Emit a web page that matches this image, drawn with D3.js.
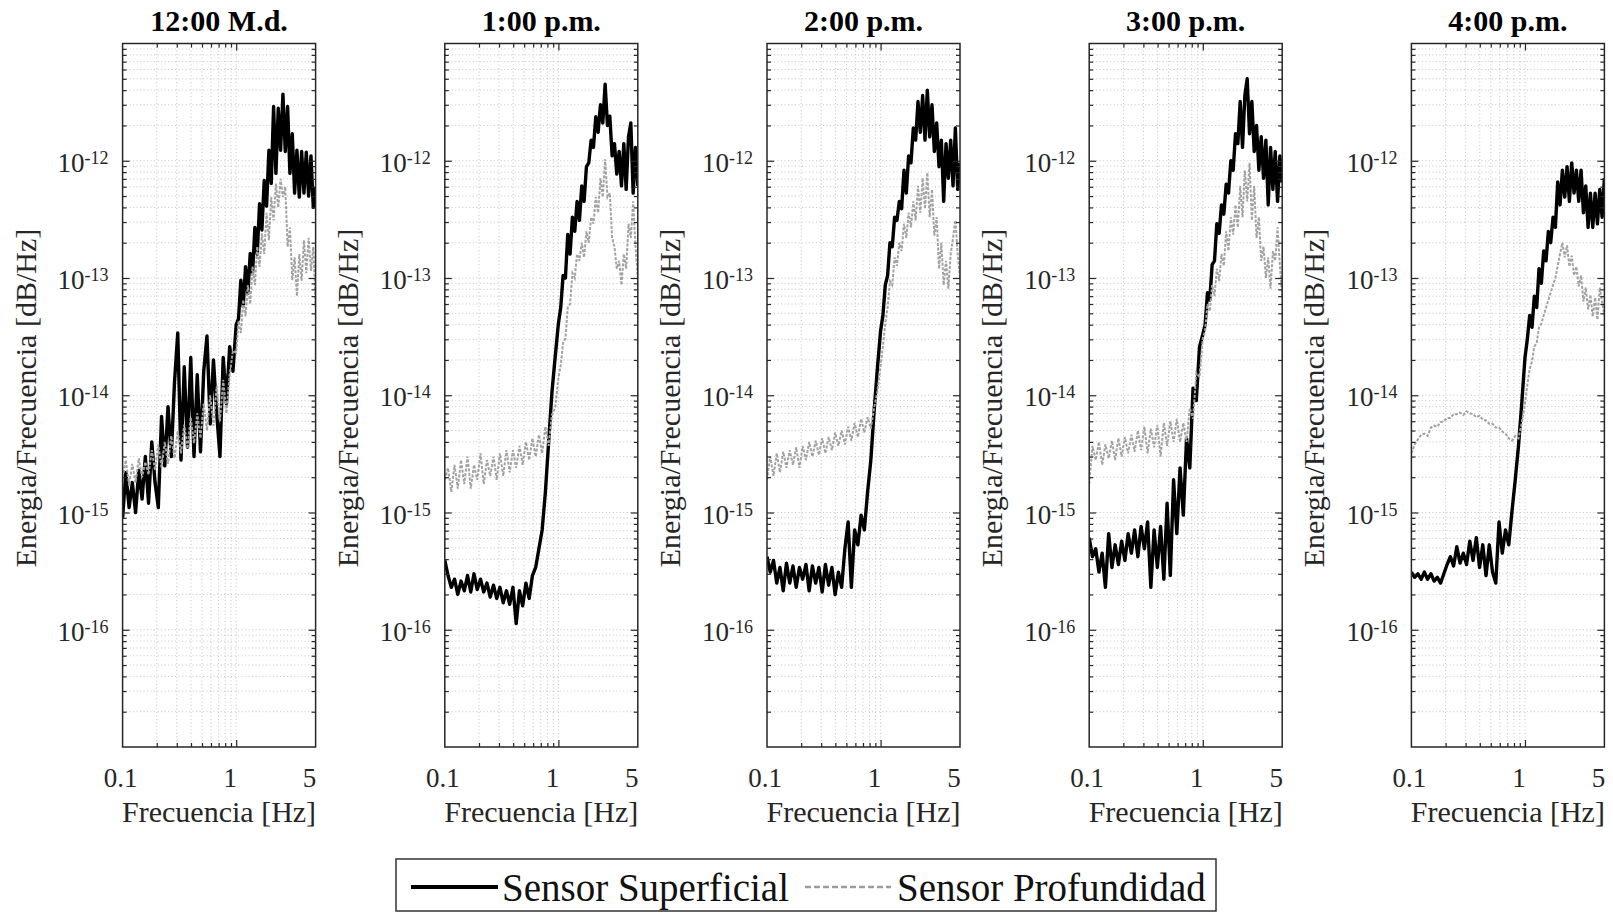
<!DOCTYPE html>
<html>
<head>
<meta charset="utf-8">
<script src="https://cdn.jsdelivr.net/npm/d3@7"></script>
<style>
  body { margin: 0; background: #fff; }
  svg { display: block; font-family: "Liberation Serif", "Times New Roman", serif; }
</style>
</head>
<body>
<svg id="chart" width="1613" height="913"></svg>
<script>
// frequency bins shared by every panel [Hz]
const freq = [
  0.1, 0.1068, 0.1141, 0.1218, 0.1301, 0.1389, 0.1484, 0.1585, 0.1692, 0.1807,
  0.193, 0.2062, 0.2202, 0.2351, 0.2511, 0.2682, 0.2864, 0.3059, 0.3267, 0.3489,
  0.3727, 0.398, 0.4251, 0.454, 0.4848, 0.5178, 0.553, 0.5906, 0.6308, 0.6737,
  0.7195, 0.7684, 0.8206, 0.8764, 0.936, 1.0,
  1.0485, 1.0993, 1.1527, 1.2086, 1.2672, 1.3287, 1.3931, 1.4607, 1.5315, 1.6058,
  1.6837, 1.7653, 1.8509, 1.9407, 2.0348, 2.1335, 2.237, 2.3455, 2.4592, 2.5785,
  2.7036, 2.8347, 2.9722, 3.1163, 3.2675, 3.426, 3.5921, 3.7663, 3.949, 4.1405,
  4.3413, 4.5519, 4.7726, 5.0
];

const titles = ["12:00 M.d.", "1:00 p.m.", "2:00 p.m.", "3:00 p.m.", "4:00 p.m."];

// 12:00
const superficial12 = [
  9.0e-16, 2.2e-15, 1.1e-15, 1.8e-15, 1.0e-15, 2.3e-15, 1.3e-15, 3.0e-15, 1.2e-15, 4.0e-15,
  1.8e-15, 1.1e-15, 6.6e-15, 2.5e-15, 8.0e-15, 3.0e-15, 1.3e-14, 3.4e-14, 2.8e-15, 1.75e-14,
  3.6e-15, 2.1e-14, 3.0e-15, 1.5e-14, 3.3e-15, 1.6e-14, 3.2e-14, 5.7e-15, 2.0e-14, 7.0e-15,
  3.0e-15, 2.1e-14, 8.5e-15, 2.6e-14, 1.6e-14, 4.0e-14,
  4.5e-14, 9.6e-14, 5.7e-14, 1.25e-13, 7.4e-14, 1.62e-13, 1.1e-13, 2.7e-13, 1.6e-13, 4.3e-13,
  2.57e-13, 6.8e-13, 4.1e-13, 1.23e-12, 6.4e-13, 2.9e-12, 7.8e-13, 2.8e-12, 1.23e-12, 3.7e-12,
  1.2e-12, 2.9e-12, 7.8e-13, 1.7e-12, 5.3e-13, 1.23e-12, 4.9e-13, 1.2e-12, 5.3e-13, 1.18e-12,
  5.0e-13, 1.1e-12, 4.0e-13, 6.0e-13
];
const profundidad12 = [
  2.0e-15, 2.8e-15, 1.7e-15, 2.6e-15, 1.8e-15, 2.9e-15, 2.0e-15, 2.7e-15, 2.1e-15, 3.4e-15,
  2.3e-15, 3.8e-15, 2.4e-15, 4.0e-15, 2.6e-15, 4.5e-15, 2.9e-15, 5.0e-15, 3.2e-15, 5.6e-15,
  3.5e-15, 6.5e-15, 3.9e-15, 7.0e-15, 4.3e-15, 8.5e-15, 5.0e-15, 1.0e-14, 5.5e-15, 1.2e-14,
  6.0e-15, 1.35e-14, 7.0e-15, 1.5e-14, 2.4e-14, 2.3e-14,
  4.3e-14, 3.4e-14, 6.5e-14, 4.7e-14, 8.7e-14, 6.0e-14, 1.25e-13, 8.7e-14, 1.85e-13, 1.25e-13,
  2.4e-13, 1.6e-13, 3.6e-13, 2.1e-13, 4.9e-13, 3.1e-13, 6.4e-13, 4.0e-13, 7.0e-13, 4.9e-13,
  6.0e-13, 1.85e-13, 2.7e-13, 9.6e-14, 1.5e-13, 7.0e-14, 1.6e-13, 9.5e-14, 2.1e-13, 1.1e-13,
  2.2e-13, 1.15e-13, 1.85e-13, 5.7e-14
];

// 1:00
const superficial13 = [
  3.9e-16, 2.9e-16, 2.3e-16, 2.7e-16, 2.0e-16, 2.6e-16, 2.15e-16, 2.9e-16, 2.1e-16, 3.0e-16,
  2.2e-16, 2.7e-16, 2.1e-16, 2.5e-16, 1.9e-16, 2.4e-16, 1.85e-16, 2.3e-16, 1.7e-16, 2.15e-16,
  1.65e-16, 2.3e-16, 1.13e-16, 2.15e-16, 1.6e-16, 2.5e-16, 1.85e-16, 2.9e-16, 3.4e-16, 4.9e-16,
  7.1e-16, 1.5e-15, 4.0e-15, 1.05e-14, 2.1e-14, 4.1e-14,
  5.6e-14, 1.05e-13, 1.0e-13, 2.35e-13, 1.6e-13, 3.3e-13, 2.5e-13, 4.5e-13, 3.1e-13, 6.1e-13,
  4.5e-13, 8.9e-13, 9.6e-13, 1.5e-12, 1.3e-12, 2.37e-12, 1.75e-12, 3.0e-12, 2.1e-12, 4.5e-12,
  2.0e-12, 2.4e-12, 1.1e-12, 1.4e-12, 7.7e-13, 1.2e-12, 6.1e-13, 1.4e-12, 5.7e-13, 1.6e-12,
  2.1e-12, 5.3e-13, 1.3e-12, 6.1e-13
];
const profundidad13 = [
  1.9e-15, 2.4e-15, 1.5e-15, 2.55e-15, 1.6e-15, 2.8e-15, 1.75e-15, 3.0e-15, 1.6e-15, 2.55e-15,
  1.9e-15, 3.2e-15, 1.75e-15, 2.8e-15, 2.05e-15, 3.0e-15, 1.9e-15, 3.2e-15, 2.05e-15, 3.4e-15,
  2.2e-15, 3.4e-15, 2.4e-15, 3.7e-15, 2.55e-15, 4.0e-15, 2.8e-15, 4.3e-15, 3.0e-15, 4.6e-15,
  3.2e-15, 5.4e-15, 3.7e-15, 6.8e-15, 7.8e-15, 1.4e-14,
  1.8e-14, 2.8e-14, 3.05e-14, 5.6e-14, 6.0e-14, 1.1e-13, 1.0e-13, 1.6e-13, 1.4e-13, 2.0e-13,
  1.5e-13, 2.5e-13, 2.0e-13, 3.3e-13, 2.9e-13, 4.9e-13, 3.6e-13, 7.1e-13, 4.9e-13, 1.03e-12,
  4.9e-13, 5.3e-13, 2.2e-13, 1.85e-13, 1.2e-13, 1.4e-13, 8.7e-14, 1.6e-13, 1.2e-13, 2.9e-13,
  2.2e-13, 4.5e-13, 1.85e-13, 1.0e-13
];

// 2:00
const superficial14 = [
  4.2e-16, 3.1e-16, 3.9e-16, 2.5e-16, 3.4e-16, 2.15e-16, 3.7e-16, 2.5e-16, 3.5e-16, 2.3e-16,
  3.4e-16, 2.7e-16, 3.6e-16, 2.15e-16, 3.5e-16, 2.5e-16, 3.4e-16, 2.1e-16, 3.6e-16, 2.4e-16,
  3.4e-16, 2.0e-16, 3.1e-16, 2.3e-16, 4.9e-16, 8.3e-16, 2.3e-16, 7.1e-16, 5.3e-16, 9.5e-16,
  7.1e-16, 1.5e-15, 2.8e-15, 7.3e-15, 1.67e-14, 3.55e-14,
  4.8e-14, 8.7e-14, 1.05e-13, 2.0e-13, 1.85e-13, 3.3e-13, 3.1e-13, 4.5e-13, 3.9e-13, 8.3e-13,
  5.3e-13, 1.1e-12, 9.6e-13, 1.9e-12, 1.5e-12, 3.2e-12, 1.75e-12, 3.6e-12, 1.5e-12, 4.0e-12,
  1.6e-12, 3.0e-12, 1.2e-12, 2.1e-12, 8.9e-13, 1.5e-12, 4.5e-13, 1.4e-12, 7.1e-13, 1.5e-12,
  6.1e-13, 1.9e-12, 5.7e-13, 9.6e-13
];
const profundidad14 = [
  1.9e-15, 3.0e-15, 2.05e-15, 3.2e-15, 2.2e-15, 3.3e-15, 2.4e-15, 3.4e-15, 2.55e-15, 3.6e-15,
  2.4e-15, 3.7e-15, 2.8e-15, 4.0e-15, 3.0e-15, 4.1e-15, 3.1e-15, 4.3e-15, 3.2e-15, 4.4e-15,
  3.4e-15, 4.8e-15, 3.7e-15, 5.0e-15, 3.8e-15, 5.4e-15, 4.1e-15, 5.8e-15, 4.4e-15, 6.3e-15,
  4.8e-15, 6.5e-15, 5.2e-15, 7.8e-15, 1.06e-14, 1.8e-14,
  2.6e-14, 4.1e-14, 5.6e-14, 9.4e-14, 8.7e-14, 1.5e-13, 1.27e-13, 2.0e-13, 1.7e-13, 2.9e-13,
  2.2e-13, 3.6e-13, 2.7e-13, 4.5e-13, 3.1e-13, 6.1e-13, 3.6e-13, 7.1e-13, 3.9e-13, 7.9e-13,
  3.3e-13, 5.7e-13, 2.3e-13, 3.3e-13, 1.2e-13, 2.0e-13, 8.7e-14, 1.4e-13, 8.1e-14, 1.6e-13,
  2.2e-13, 3.1e-13, 1.6e-13, 1.0e-13
];

// 3:00
const superficial15 = [
  6.1e-16, 4.2e-16, 4.9e-16, 3.1e-16, 4.5e-16, 2.3e-16, 6.6e-16, 3.4e-16, 5.3e-16, 3.6e-16,
  5.7e-16, 3.9e-16, 6.6e-16, 4.5e-16, 7.1e-16, 4.2e-16, 7.6e-16, 4.9e-16, 8.3e-16, 2.3e-16,
  7.1e-16, 3.4e-16, 7.6e-16, 2.7e-16, 1.2e-15, 2.9e-16, 1.9e-15, 6.6e-16, 2.4e-15, 9.5e-16,
  4.3e-15, 2.4e-15, 1.15e-14, 9.0e-15, 2.6e-14, 3.3e-14,
  4.0e-14, 7.5e-14, 6.5e-14, 1.3e-13, 1.4e-13, 2.9e-13, 2.4e-13, 4.2e-13, 3.5e-13, 6.3e-13,
  5.3e-13, 1.0e-12, 8.3e-13, 1.7e-12, 1.4e-12, 3.2e-12, 1.3e-12, 3.6e-12, 5.0e-12, 1.7e-12,
  3.2e-12, 1.2e-12, 2.0e-12, 8.3e-13, 1.6e-12, 7.1e-13, 1.5e-12, 4.2e-13, 1.3e-12, 5.7e-13,
  1.2e-12, 4.5e-13, 1.1e-12, 6.5e-13
];
const profundidad15 = [
  1.75e-15, 3.7e-15, 2.8e-15, 4.0e-15, 2.55e-15, 3.8e-15, 2.9e-15, 4.1e-15, 2.8e-15, 4.3e-15,
  3.0e-15, 4.4e-15, 3.2e-15, 4.6e-15, 3.3e-15, 5.0e-15, 3.4e-15, 5.4e-15, 3.2e-15, 5.2e-15,
  3.6e-15, 5.6e-15, 3.0e-15, 5.8e-15, 3.7e-15, 6.0e-15, 4.0e-15, 6.3e-15, 4.0e-15, 5.8e-15,
  4.0e-15, 7.8e-15, 6.3e-15, 1.55e-14, 1.43e-14, 3.05e-14,
  3.55e-14, 6.0e-14, 5.2e-14, 8.7e-14, 7.0e-14, 1.2e-13, 9.4e-14, 1.6e-13, 1.27e-13, 2.5e-13,
  1.7e-13, 3.3e-13, 2.35e-13, 4.2e-13, 2.7e-13, 6.1e-13, 3.3e-13, 8.3e-13, 4.5e-13, 9.6e-13,
  3.1e-13, 6.1e-13, 2.2e-13, 3.3e-13, 1.4e-13, 1.85e-13, 1.0e-13, 1.5e-13, 8.1e-14, 1.7e-13,
  1.4e-13, 2.7e-13, 1.27e-13, 7.0e-14
];

// 4:00
const superficial16 = [
  3.1e-16, 2.8e-16, 3.0e-16, 2.7e-16, 3.1e-16, 2.7e-16, 3.0e-16, 2.6e-16, 2.8e-16, 2.5e-16,
  3.0e-16, 3.6e-16, 4.2e-16, 3.5e-16, 5.1e-16, 3.7e-16, 4.5e-16, 3.6e-16, 5.7e-16, 3.9e-16,
  6.1e-16, 3.4e-16, 5.3e-16, 2.9e-16, 5.3e-16, 3.1e-16, 2.5e-16, 8.3e-16, 4.5e-16, 7.1e-16,
  5.3e-16, 1.03e-15, 1.9e-15, 3.7e-15, 8.5e-15, 2.1e-14,
  3.0e-14, 4.8e-14, 3.8e-14, 7.0e-14, 5.6e-14, 1.2e-13, 9.0e-14, 1.7e-13, 1.4e-13, 2.5e-13,
  2.0e-13, 3.3e-13, 2.7e-13, 6.6e-13, 4.2e-13, 8.3e-13, 4.9e-13, 8.9e-13, 4.5e-13, 9.6e-13,
  5.3e-13, 8.3e-13, 4.5e-13, 8.3e-13, 3.6e-13, 6.1e-13, 2.7e-13, 5.3e-13, 2.7e-13, 5.3e-13,
  2.9e-13, 5.7e-13, 3.3e-13, 7.1e-13
];
const profundidad16 = [
  3.2e-15, 3.8e-15, 4.2e-15, 4.6e-15, 4.7e-15, 4.5e-15, 5.3e-15, 5.5e-15, 5.4e-15, 5.9e-15,
  6.0e-15, 6.4e-15, 6.4e-15, 6.9e-15, 6.9e-15, 7.1e-15, 6.8e-15, 7.3e-15, 7.0e-15, 6.9e-15,
  6.5e-15, 6.7e-15, 6.2e-15, 6.1e-15, 5.7e-15, 5.7e-15, 5.3e-15, 5.3e-15, 4.9e-15, 4.7e-15,
  4.3e-15, 4.1e-15, 4.5e-15, 4.3e-15, 5.8e-15, 8.5e-15,
  1.23e-14, 1.67e-14, 1.95e-14, 2.6e-14, 2.8e-14, 3.8e-14, 4.1e-14, 4.8e-14, 5.6e-14, 6.5e-14,
  7.5e-14, 8.7e-14, 1.0e-13, 1.27e-13, 1.6e-13, 2.0e-13, 1.5e-13, 1.9e-13, 1.25e-13, 1.55e-13,
  1.05e-13, 1.25e-13, 8.5e-14, 1.05e-13, 6.3e-14, 8.3e-14, 5.4e-14, 7.2e-14, 4.7e-14, 6.8e-14,
  4.4e-14, 8.3e-14, 6.2e-14, 4.8e-14
];

const yTickExponents = [-16, -15, -14, -13, -12];
const xTickLabels = [0.1, 1, 5];
const xMinorTicks = [0.2, 0.3, 0.4, 0.5, 0.6, 0.7, 0.8, 0.9];
const legendLabels = ["Sensor Superficial", "Sensor Profundidad"];

const panels = [
  { title: titles[0], sup: superficial12, prof: profundidad12 },
  { title: titles[1], sup: superficial13, prof: profundidad13 },
  { title: titles[2], sup: superficial14, prof: profundidad14 },
  { title: titles[3], sup: superficial15, prof: profundidad15 },
  { title: titles[4], sup: superficial16, prof: profundidad16 }
];

const svg = d3.select("#chart");
const firstLeft = 122.6, step = 322.2, plotW = 193, plotTop = 43.5, plotBottom = 747;
const axisColor = "#262626";

panels.forEach(function(p, k) {
  const left = firstLeft + k * step;
  const right = left + plotW;
  const x = d3.scaleLog().domain([0.1, 5]).range([left, right]);
  const y = d3.scaleLog().domain([1e-17, 1e-11]).range([plotBottom, plotTop]);
  const g = svg.append("g");

  // grid
  const yGrid = y.ticks().filter(function(v) { return v > 1.0001e-17 && v < 0.9999e-11; });
  g.append("g").selectAll("line").data(yGrid).join("line")
    .attr("x1", left).attr("x2", right)
    .attr("y1", function(d) { return y(d); }).attr("y2", function(d) { return y(d); })
    .attr("stroke", "#c4c4c4").attr("stroke-width", 1).attr("stroke-dasharray", "1,2.5");
  g.append("g").selectAll("line").data(xMinorTicks.concat([1])).join("line")
    .attr("x1", function(d) { return x(d); }).attr("x2", function(d) { return x(d); })
    .attr("y1", plotTop).attr("y2", plotBottom)
    .attr("stroke", "#c4c4c4").attr("stroke-width", 1).attr("stroke-dasharray", "1,2.5");

  // data
  const clipId = "clip" + k;
  svg.append("clipPath").attr("id", clipId).append("rect")
    .attr("x", left).attr("y", plotTop).attr("width", plotW).attr("height", plotBottom - plotTop);
  const line = d3.line().x(function(d) { return x(d[0]); }).y(function(d) { return y(d[1]); });
  const dataG = g.append("g").attr("clip-path", "url(#" + clipId + ")");
  dataG.append("path").datum(d3.zip(freq, p.sup)).attr("d", line)
    .attr("fill", "none").attr("stroke", "#000").attr("stroke-width", 3.4)
    .attr("stroke-linejoin", "round");
  dataG.append("path").datum(d3.zip(freq, p.prof)).attr("d", line)
    .attr("fill", "none").attr("stroke", "#a2a2a2").attr("stroke-width", 2)
    .attr("stroke-dasharray", "3,1.5");

  // ticks (inward, mirrored on all sides)
  const yMajor = yTickExponents.map(function(e) { return Math.pow(10, e); });
  const yMinor = yGrid.filter(function(v) { return yMajor.every(function(m) { return Math.abs(v / m - 1) > 1e-6; }); });
  function addAxis(axis, tx, ty) {
    const a = g.append("g").attr("transform", "translate(" + tx + "," + ty + ")").call(axis);
    a.select(".domain").remove();
    a.selectAll("line").attr("stroke", axisColor).attr("stroke-width", 1.2);
  }
  addAxis(d3.axisLeft(y).tickValues(yMajor).tickSize(-7).tickFormat(""), left, 0);
  addAxis(d3.axisLeft(y).tickValues(yMinor).tickSize(-4).tickFormat(""), left, 0);
  addAxis(d3.axisRight(y).tickValues(yMajor).tickSize(-7).tickFormat(""), right, 0);
  addAxis(d3.axisRight(y).tickValues(yMinor).tickSize(-4).tickFormat(""), right, 0);
  addAxis(d3.axisBottom(x).tickValues([1]).tickSize(-7).tickFormat(""), 0, plotBottom);
  addAxis(d3.axisBottom(x).tickValues(xMinorTicks).tickSize(-4).tickFormat(""), 0, plotBottom);
  addAxis(d3.axisTop(x).tickValues([1]).tickSize(-7).tickFormat(""), 0, plotTop);
  addAxis(d3.axisTop(x).tickValues(xMinorTicks).tickSize(-4).tickFormat(""), 0, plotTop);

  // box
  g.append("rect").attr("x", left).attr("y", plotTop)
    .attr("width", plotW).attr("height", plotBottom - plotTop)
    .attr("fill", "none").attr("stroke", axisColor).attr("stroke-width", 1.5);

  // y tick labels 10^e
  yTickExponents.forEach(function(e) {
    const t = g.append("text").attr("x", left - 14).attr("y", y(Math.pow(10, e)) + 11)
      .attr("text-anchor", "end").attr("fill", axisColor).attr("font-size", 27);
    t.append("tspan").text("10");
    t.append("tspan").attr("font-size", 18).attr("dy", -8).text(String(e));
  });

  // x tick labels
  g.selectAll("text.xt").data(xTickLabels).join("text").attr("class", "xt")
    .attr("x", function(d) { return x(d) - (d === 0.1 ? 2 : 6); }).attr("y", 787)
    .attr("text-anchor", "middle").attr("fill", axisColor).attr("font-size", 27)
    .text(function(d) { return String(d); });

  // axis labels and title
  g.append("text").attr("x", (left + right) / 2).attr("y", 822)
    .attr("text-anchor", "middle").attr("fill", axisColor).attr("font-size", 30)
    .text("Frecuencia [Hz]");
  g.append("text").attr("transform", "translate(" + (left - 87) + ",398) rotate(-90)")
    .attr("text-anchor", "middle").attr("fill", axisColor).attr("font-size", 30)
    .text("Energia/Frecuencia [dB/Hz]");
  g.append("text").attr("x", (left + right) / 2).attr("y", 31)
    .attr("text-anchor", "middle").attr("fill", "#000").attr("font-size", 30)
    .attr("font-weight", "bold").text(p.title);
});

// legend
const lg = svg.append("g");
lg.append("rect").attr("x", 396).attr("y", 859).attr("width", 820).attr("height", 52)
  .attr("fill", "#fff").attr("stroke", "#333").attr("stroke-width", 1.5);
lg.append("line").attr("x1", 411).attr("x2", 498).attr("y1", 887).attr("y2", 887)
  .attr("stroke", "#000").attr("stroke-width", 4);
lg.append("text").attr("x", 502).attr("y", 901).attr("font-size", 39).attr("fill", "#111")
  .text(legendLabels[0]);
lg.append("line").attr("x1", 805).attr("x2", 891).attr("y1", 887).attr("y2", 887)
  .attr("stroke", "#9c9c9c").attr("stroke-width", 2.5).attr("stroke-dasharray", "6,3");
lg.append("text").attr("x", 897).attr("y", 901).attr("font-size", 39).attr("fill", "#111")
  .text(legendLabels[1]);
</script>
</body>
</html>
